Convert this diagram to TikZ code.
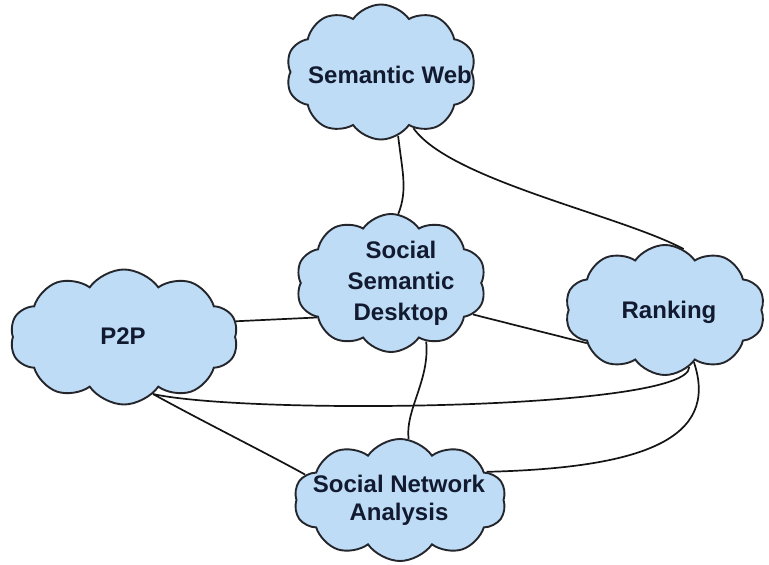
\documentclass[tikz,border=0pt]{standalone}
\usepackage{fontspec}
\setmainfont{Liberation Sans}
\usetikzlibrary{shapes.symbols,backgrounds}
\definecolor{cloudfill}{RGB}{190,220,246}
\definecolor{cloudline}{RGB}{36,38,44}
\definecolor{labeltext}{RGB}{18,26,48}
\tikzset{
  cloudnode/.style={shape=cloud, cloud puffs=10, cloud puff arc=110,
    cloud ignores aspect, draw=cloudline, line width=1.9pt, fill=cloudfill,
    inner sep=0pt},
  cloudlabel/.style={text=labeltext, font=\fontsize{24}{31}\selectfont\bfseries,
    align=center, inner sep=0pt},
  link/.style={draw=black!92, line width=1.7pt}
}
\begin{document}
\begin{tikzpicture}[x=1pt, y=-1pt]
  \useasboundingbox (0,0) rectangle (769,565);

  % topic clouds
  \node[cloudnode, minimum width=190pt, minimum height=135pt] (sw)   at (381,72)  {};
  \node[cloudnode, minimum width=190pt, minimum height=138pt] (ssd)  at (391,283) {};
  \node[cloudnode, minimum width=228pt, minimum height=135pt] (p2p)  at (124,337) {};
  \node[cloudnode, minimum width=200pt, minimum height=130pt] (rank) at (665,310) {};
  \node[cloudnode, minimum width=212pt, minimum height=122pt] (sna)  at (400,500) {};

  % their labels
  \node[cloudlabel] (swtext)   at (390,75)  {Semantic Web};
  \node[cloudlabel] (ssdtext)  at (401,283) {Social\\Semantic\\Desktop};
  \node[cloudlabel] (p2ptext)  at (123,336) {P2P};
  \node[cloudlabel] (ranktext) at (669,312) {Ranking};
  \node[cloudlabel, font=\fontsize{24}{28}\selectfont\bfseries] (snatext) at (399,500) {Social Network\\Analysis};

  \begin{pgfonlayer}{background}
    \fill[white] (0,0) rectangle (769,565);
    % links between the topics
    \draw[link] (sw.-75) .. controls (402,170) and (408,190) .. (ssd.84);
    \draw[link] (sw.-60) .. controls (450,180) and (620,215) .. (rank.73);
    \draw[link] (p2p.8) -- (ssd.-155);
    \draw[link] (ssd.-21) -- (rank.203);
    \draw[link] (ssd.-59) .. controls (430,380) and (405,410) .. (sna.82);
    \draw[link] (p2p.-63) .. controls (250,415) and (690,410) .. (rank.-67);
    \draw[link] (p2p.-63) .. controls (200,420) and (270,455) .. (sna.165);
    \draw[link] (rank.-61) .. controls (720,440) and (640,468) .. (sna.18);
  \end{pgfonlayer}
\end{tikzpicture}
\end{document}
